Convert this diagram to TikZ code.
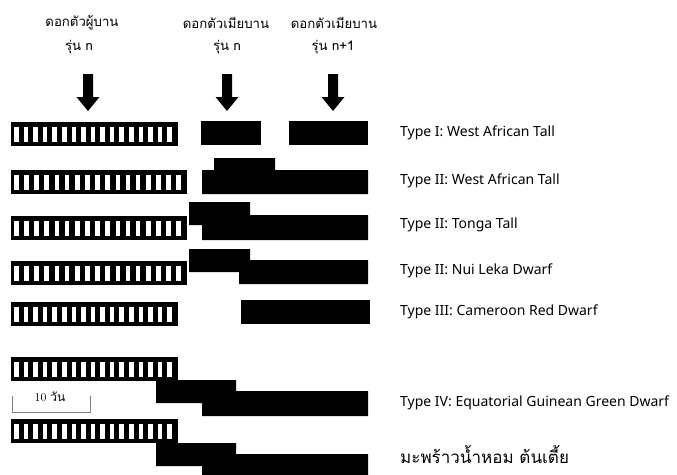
\documentclass[tikz,border=0pt]{standalone}
\usepackage{fontspec}
\newfontfamily\thaifont[Script=Thai]{Loma}
\newfontfamily\latinsans{Noto Sans}
\begin{document}
\begin{tikzpicture}[x=1pt,y=-1pt,
  lbl/.style={anchor=west,inner sep=0pt,font=\latinsans\fontsize{14}{16}\selectfont},
  head/.style={inner sep=0pt,font=\thaifont\fontsize{13.2}{15}\selectfont},
  fem/.style={fill=black}]
\useasboundingbox (0,0) rectangle (677,474);
\newcommand\malebar[3]{%
  \fill[black] (#1,#3) rectangle (#2,#3+24);
  \pgfmathsetmacro\mbpitch{(#2-#1-3-6-4.6)/16}
  \foreach \i in {0,...,16}{\fill[white] ({#1+3+\i*\mbpitch},#3+4.5) rectangle ++(4.6,15);}
}
\newcommand\blockarrow[1]{%
  \fill[black] (#1-5,74) -- (#1+5,74) -- (#1+5,97) -- (#1+11.5,97) -- (#1,111) -- (#1-11.5,97) -- (#1-5,97) -- cycle;
}
% headings
\node[head] (h1a) at (82,23) {ดอกตัวผู้บาน};
\node[head] (h1b) at (79,47) {รุ่น n};
\node[head] (h2a) at (226,23) {ดอกตัวเมียบาน};
\node[head] (h2b) at (227,47) {รุ่น n};
\node[head] (h3a) at (334,23) {ดอกตัวเมียบาน};
\node[head] (h3b) at (333,47) {รุ่น n+1};
\blockarrow{88}
\blockarrow{227}
\blockarrow{333}
% row 1
\malebar{11}{178}{122}
\fill[fem] (201,121) rectangle (261,145);
\fill[fem] (289,121) rectangle (368,145);
% row 2
\malebar{11}{187}{170}
\fill[fem] (214,158) -- (275,158) -- (275,170) -- (368,170) -- (368,194) -- (202,194) -- (202,170) -- (214,170) -- cycle;
% row 3
\malebar{11}{187}{216}
\fill[fem] (189,202) -- (250,202) -- (250,215) -- (368,215) -- (368,240) -- (202,240) -- (202,225) -- (189,225) -- cycle;
% row 4
\malebar{11}{187}{261}
\fill[fem] (189,249) -- (250,249) -- (250,260) -- (368,260) -- (368,284) -- (239,284) -- (239,272) -- (189,272) -- cycle;
% row 5
\malebar{11}{178}{302}
\fill[fem] (241,300) rectangle (370,324);
% row 6
\malebar{11}{178}{357}
\fill[fem] (156,380) -- (236,380) -- (236,391) -- (368,391) -- (368,416) -- (202,416) -- (202,403) -- (156,403) -- cycle;
% row 7
\malebar{11}{178}{419}
\fill[fem] (156,443) -- (236,443) -- (236,454) -- (368,454) -- (368,478) -- (202,478) -- (202,466) -- (156,466) -- cycle;
% scale
\draw[gray,line width=0.6pt] (12,396) -- (12,412) -- (90,412) -- (90,396);
\node[inner sep=0pt,font=\fontsize{12}{13}\selectfont] (scl) at (50,397) {10 {\thaifont วัน}};
% labels
\node[lbl] (t1) at (400,133) {Type I: West African Tall};
\node[lbl] (t2) at (400,181) {Type II: West African Tall};
\node[lbl] (t3) at (400,225) {Type II: Tonga Tall};
\node[lbl] (t4) at (400,271) {Type II: Nui Leka Dwarf};
\node[lbl] (t5) at (400,312) {Type III: Cameroon Red Dwarf};
\node[lbl] (t6) at (400,403) {Type IV: Equatorial Guinean Green Dwarf};
\node[lbl,font=\thaifont\fontsize{17}{19}\selectfont] (t7) at (400,455) {มะพร้าวน้ำหอม ต้นเตี้ย};
\end{tikzpicture}
\end{document}
